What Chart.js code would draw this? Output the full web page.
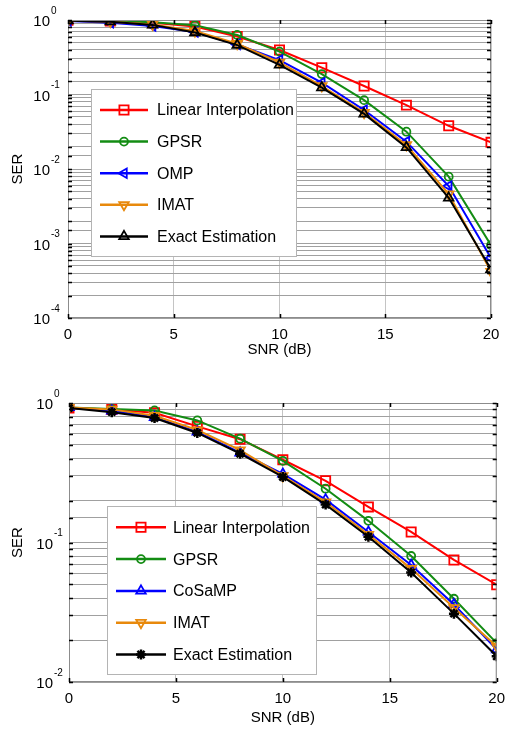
<!DOCTYPE html>
<html><head><meta charset="utf-8">
<script src="https://cdn.jsdelivr.net/npm/chart.js@4.4.1/dist/chart.umd.min.js"></script>
<style>
html,body{margin:0;padding:0;background:#fff;}
.wrap{position:absolute;left:0;width:505px;height:365px;}
canvas{display:block;}
</style></head><body>
<div class="wrap" style="top:0"><canvas id="c1" width="505" height="365"></canvas></div>
<div class="wrap" style="top:365px"><canvas id="c2" width="505" height="365"></canvas></div>
<script>
// ---- data ----
const snr = [0, 2, 4, 6, 8, 10, 12, 14, 16, 18, 20];
const xTicks = [0, 5, 10, 15, 20];

const topLabels = ['Linear Interpolation', 'GPSR', 'OMP', 'IMAT', 'Exact Estimation'];
const topLinear = [0.99, 0.97, 0.92, 0.82, 0.60, 0.395, 0.229, 0.13, 0.072, 0.038, 0.0228];
const topGPSR   = [0.99, 0.97, 0.93, 0.85, 0.63, 0.376, 0.188, 0.084, 0.0317, 0.0079, 0.00095];
const topOMP    = [0.97, 0.92, 0.83, 0.69, 0.47, 0.29, 0.144, 0.062, 0.0233, 0.0059, 0.00064];
const topIMAT   = [0.98, 0.95, 0.87, 0.71, 0.48, 0.27, 0.13, 0.057, 0.021, 0.0046, 0.00042];
const topExact  = [0.98, 0.95, 0.86, 0.68, 0.46, 0.25, 0.124, 0.055, 0.0195, 0.0041, 0.00045];
const topYExp   = [0, -1, -2, -3, -4];

const botLabels = ['Linear Interpolation', 'GPSR', 'CoSaMP', 'IMAT', 'Exact Estimation'];
const botLinear = [0.92, 0.90, 0.85, 0.68, 0.55, 0.392, 0.277, 0.18, 0.119, 0.075, 0.0498];
const botGPSR   = [0.93, 0.905, 0.885, 0.75, 0.555, 0.385, 0.243, 0.143, 0.08, 0.0395, 0.019];
const botCoSaMP = [0.93, 0.88, 0.79, 0.62, 0.44, 0.31, 0.203, 0.119, 0.069, 0.036, 0.0171];
const botIMAT   = [0.93, 0.90, 0.81, 0.64, 0.46, 0.30, 0.195, 0.114, 0.065, 0.034, 0.018];
const botExact  = [0.92, 0.86, 0.78, 0.61, 0.433, 0.295, 0.187, 0.11, 0.061, 0.0309, 0.0153];
const botYExp   = [0, -1, -2];

const xTitle = 'SNR (dB)';
const yTitle = 'SER';

// ---- styles ----
const FONT = '"Liberation Sans", Arial, sans-serif';
const COLORS = ['#ff0000', '#138c13', '#0000ff', '#e8890c', '#000000'];

function drawMarker(ctx, style, rot, r, x, y) {
  ctx.save();
  ctx.translate(x, y);
  ctx.rotate(rot * Math.PI / 180);
  ctx.beginPath();
  if (style === 'rect') {
    const s = r * Math.SQRT1_2;
    ctx.rect(-s, -s, 2 * s, 2 * s);
    ctx.stroke();
  } else if (style === 'circle') {
    ctx.arc(0, 0, r, 0, Math.PI * 2);
    ctx.stroke();
  } else if (style === 'triangle') {
    for (let i = 0; i < 3; i++) {
      const a = i * 2 * Math.PI / 3;
      const px = Math.sin(a) * r, py = -Math.cos(a) * r;
      if (i === 0) ctx.moveTo(px, py); else ctx.lineTo(px, py);
    }
    ctx.closePath();
    ctx.stroke();
  } else if (style === 'star') {
    for (let i = 0; i < 4; i++) {
      const a = i * Math.PI / 4;
      ctx.moveTo(Math.cos(a) * r, Math.sin(a) * r);
      ctx.lineTo(-Math.cos(a) * r, -Math.sin(a) * r);
    }
    ctx.stroke();
  }
  ctx.restore();
}

function makeChart(id, labels, series, markers, yExps, geom) {
  const canvas = document.getElementById(id);
  const W = canvas.width, H = canvas.height;
  const datasets = series.map((d, i) => ({
    label: labels[i],
    data: snr.map((x, k) => ({ x: x, y: d[k] })),
    borderColor: COLORS[i],
    backgroundColor: 'rgba(0,0,0,0)',
    pointBorderColor: COLORS[i],
    pointBackgroundColor: 'rgba(0,0,0,0)',
    borderWidth: 2,
    pointBorderWidth: markers[i].bw,
    pointStyle: markers[i].style,
    pointRotation: markers[i].rot,
    pointRadius: markers[i].r,
    tension: 0,
    order: 4 - i
  }));

  const yMin = Math.pow(10, yExps[yExps.length - 1]);
  const yMax = Math.pow(10, yExps[0]);

  const overlay = {
    id: 'overlay',
    afterDraw(chart) {
      const ctx = chart.ctx;
      const a = chart.chartArea;
      const ys = chart.scales.y, xs = chart.scales.x;
      ctx.save();
      // frame
      ctx.strokeStyle = '#8c8c8c';
      ctx.lineWidth = 1;
      ctx.strokeRect(a.left + 0.5, a.top + 0.5, a.right - a.left - 1, a.bottom - a.top - 1);
      // inward ticks
      ctx.strokeStyle = '#000';
      ctx.lineWidth = 1.5;
      ctx.beginPath();
      ys.ticks.forEach(t => {
        const py = Math.round(ys.getPixelForValue(t.value)) + 0.5;
        const len = 4;
        ctx.moveTo(a.left, py); ctx.lineTo(a.left + len, py);
        ctx.moveTo(a.right, py); ctx.lineTo(a.right - len, py);
      });
      xTicks.forEach(v => {
        const px = Math.round(xs.getPixelForValue(v)) + 0.5;
        ctx.moveTo(px, a.bottom); ctx.lineTo(px, a.bottom - 4);
        ctx.moveTo(px, a.top); ctx.lineTo(px, a.top + 4);
      });
      ctx.stroke();
      // y tick labels with superscript exponents
      ctx.fillStyle = '#000';
      ctx.textBaseline = 'middle';
      yExps.forEach(e => {
        const py = ys.getPixelForValue(Math.pow(10, e));
        const base = '10';
        const exp = String(e).replace('-', '-');
        ctx.font = '15px ' + FONT;
        ctx.textAlign = 'right';
        const xr = a.left - geom.labGap;
        ctx.fillText(base, xr, py + 2);
        ctx.font = '10px ' + FONT;
        ctx.textAlign = 'left';
        ctx.fillText(exp, xr + 1, py - 9);
      });
      // legend
      const L = geom.legend;
      ctx.fillStyle = '#fff';
      ctx.fillRect(L.x, L.y, L.w, L.h);
      ctx.strokeStyle = '#b4b4b4';
      ctx.lineWidth = 1;
      ctx.strokeRect(L.x + 0.5, L.y + 0.5, L.w, L.h);
      chart.data.datasets.forEach((ds, i) => {
        const cy = L.y0 + i * L.dy;
        ctx.strokeStyle = ds.borderColor;
        ctx.lineWidth = 2.5;
        ctx.beginPath();
        ctx.moveTo(L.lx0, cy); ctx.lineTo(L.lx1, cy);
        ctx.stroke();
        ctx.lineWidth = ds.pointBorderWidth;
        drawMarker(ctx, ds.pointStyle, ds.pointRotation, ds.pointRadius, (L.lx0 + L.lx1) / 2, cy);
        ctx.fillStyle = '#000';
        ctx.font = '16px ' + FONT;
        ctx.textAlign = 'left';
        ctx.textBaseline = 'middle';
        ctx.fillText(ds.label, L.tx, cy + 1);
      });
      ctx.restore();
    }
  };

  return new Chart(canvas, {
    type: 'line',
    data: { datasets: datasets },
    options: {
      responsive: false,
      animation: false,
      devicePixelRatio: 1,
      layout: { padding: { left: 0, top: geom.top, right: W - geom.right, bottom: 0 } },
      plugins: { legend: { display: false }, tooltip: { enabled: false } },
      scales: {
        x: {
          type: 'linear', min: 0, max: 20,
          afterBuildTicks: s => { s.ticks = xTicks.map(v => ({ value: v })); },
          afterFit: s => { s.height = H - geom.bottom; s.paddingLeft = 0; s.paddingRight = 0; },
          grid: { color: '#c4c4c4', lineWidth: 1, drawTicks: false },
          border: { display: false },
          ticks: { font: { family: FONT, size: 15 }, color: '#000', padding: 8, maxRotation: 0, autoSkip: false },
          title: { display: true, text: xTitle, font: { family: FONT, size: 15 }, color: '#000', padding: { top: 0, bottom: geom.xTitlePad } }
        },
        y: {
          type: 'logarithmic', min: yMin, max: yMax,
          afterFit: s => { s.width = geom.left; s.paddingTop = 0; s.paddingBottom = 0; },
          grid: { color: '#a0a0a0', lineWidth: 1, drawTicks: false },
          border: { display: false },
          ticks: { callback: () => '', autoSkip: false, padding: 0 },
          title: { display: true, text: yTitle, font: { family: FONT, size: 15 }, color: '#000', padding: { top: 8.5, bottom: 0 } }
        }
      }
    },
    plugins: [overlay]
  });
}

makeChart('c1', topLabels,
  [topLinear, topGPSR, topOMP, topIMAT, topExact],
  [
    { style: 'rect', rot: 0, r: 6.5, bw: 1.8 },
    { style: 'circle', rot: 0, r: 4, bw: 1.8 },
    { style: 'triangle', rot: -90, r: 5.5, bw: 1.8 },
    { style: 'triangle', rot: 180, r: 5.5, bw: 1.8 },
    { style: 'triangle', rot: 0, r: 5.5, bw: 1.8 }
  ],
  topYExp,
  { left: 68, right: 491, top: 20, bottom: 318, xTitlePad: 6, labGap: 18,
    legend: { x: 91, y: 89, w: 205, h: 167, y0: 110, dy: 31.6, lx0: 100, lx1: 148, tx: 157 } });

makeChart('c2', botLabels,
  [botLinear, botGPSR, botCoSaMP, botIMAT, botExact],
  [
    { style: 'rect', rot: 0, r: 6.5, bw: 1.8 },
    { style: 'circle', rot: 0, r: 4, bw: 1.8 },
    { style: 'triangle', rot: 0, r: 5.5, bw: 1.8 },
    { style: 'triangle', rot: 180, r: 5.5, bw: 1.8 },
    { style: 'star', rot: 0, r: 5, bw: 2.5 }
  ],
  botYExp,
  { left: 69, right: 498, top: 38, bottom: 317, xTitlePad: 3, labGap: 16,
    legend: { x: 107, y: 141, w: 209, h: 168, y0: 162.3, dy: 31.8, lx0: 116, lx1: 166, tx: 173 } });
</script>
</body></html>
